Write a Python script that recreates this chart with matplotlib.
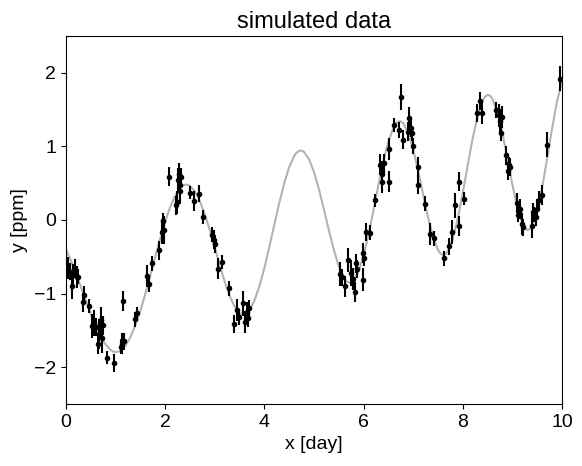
import matplotlib
matplotlib.use("Agg")
import matplotlib.pyplot as plt

plt.rcParams['font.family'] = ['Liberation Sans', 'DejaVu Sans']

# true model curve (denser near the extrema)
true_t = [0.0, 0.1, 0.2, 0.3, 0.4, 0.5, 0.6, 0.7, 0.8, 0.9, 0.95,
          1.0, 1.05, 1.1, 1.2, 1.3, 1.4, 1.5, 1.6, 1.7, 1.8, 1.9,
          2.0, 2.1, 2.2, 2.3, 2.35, 2.4, 2.45, 2.5, 2.6, 2.7, 2.8, 2.9,
          3.0, 3.1, 3.2, 3.3, 3.4, 3.5, 3.55, 3.6, 3.65, 3.7, 3.8, 3.9,
          4.0, 4.1, 4.2, 4.3, 4.4, 4.5, 4.6, 4.65, 4.7, 4.75, 4.8, 4.9,
          5.0, 5.1, 5.2, 5.3, 5.4, 5.5, 5.6, 5.65, 5.7, 5.75, 5.8, 5.9,
          6.0, 6.1, 6.2, 6.3, 6.4, 6.5, 6.6, 6.65, 6.7, 6.75, 6.8, 6.9,
          7.0, 7.1, 7.2, 7.3, 7.4, 7.5, 7.55, 7.6, 7.65, 7.7, 7.8, 7.9,
          8.0, 8.1, 8.2, 8.3, 8.4, 8.45, 8.5, 8.55, 8.6, 8.7, 8.8, 8.9,
          9.0, 9.1, 9.2, 9.25, 9.3, 9.35, 9.4, 9.5, 9.6, 9.7, 9.8, 9.9, 10.0]
true_y = [-0.401, -0.554, -0.725, -0.907, -1.094, -1.274, -1.440, -1.583, -1.693, -1.766, -1.786,
          -1.794, -1.790, -1.774, -1.706, -1.589, -1.428, -1.230, -1.001, -0.754, -0.500, -0.251,
          -0.022, 0.177, 0.331, 0.435, 0.465, 0.479, 0.479, 0.464, 0.387, 0.254, 0.075, -0.140,
          -0.375, -0.614, -0.839, -1.032, -1.178, -1.264, -1.281, -1.280, -1.261, -1.223, -1.093, -0.898,
          -0.650, -0.364, -0.063, 0.233, 0.501, 0.718, 0.869, 0.915, 0.940, 0.943, 0.925, 0.825,
          0.650, 0.416, 0.144, -0.140, -0.406, -0.629, -0.784, -0.829, -0.852, -0.850, -0.823, -0.697,
          -0.481, -0.196, 0.135, 0.478, 0.800, 1.068, 1.255, 1.311, 1.340, 1.341, 1.314, 1.182,
          0.957, 0.668, 0.347, 0.036, -0.227, -0.406, -0.456, -0.476, -0.466, -0.425, -0.253, 0.022,
          0.369, 0.748, 1.112, 1.415, 1.620, 1.677, 1.700, 1.689, 1.644, 1.461, 1.177, 0.833,
          0.480, 0.171, -0.046, -0.109, -0.136, -0.125, -0.078, 0.122, 0.441, 0.833, 1.244, 1.613, 1.884]

obs_t = [0.04, 0.08, 0.12, 0.15, 0.19, 0.22, 0.25, 0.34, 0.37, 0.47,
         0.53, 0.56, 0.60, 0.64, 0.66, 0.70, 0.72, 0.74, 0.82, 0.97,
         1.10, 1.13, 1.15, 1.17, 1.40, 1.43, 1.64, 1.67, 1.73, 1.88,
         1.93, 1.96, 1.97, 2.08, 2.22, 2.24, 2.26, 2.28, 2.29, 2.30,
         2.32, 2.50, 2.58, 2.69, 2.77, 2.95, 2.98, 3.00, 3.07, 3.15,
         3.29, 3.39, 3.45, 3.49, 3.57, 3.61, 3.64, 3.66, 3.68,
         5.52, 5.56, 5.62, 5.69, 5.75, 5.78, 5.83, 5.84, 5.86, 5.98,
         5.99, 6.01, 6.04, 6.13, 6.22, 6.33, 6.37, 6.38, 6.41, 6.52,
         6.52, 6.61, 6.72, 6.75, 6.79, 6.90, 6.92, 6.95, 6.97, 6.99,
         7.10, 7.10, 7.24, 7.34, 7.42, 7.62, 7.73, 7.79, 7.84, 7.93,
         7.93, 8.02, 8.29, 8.35, 8.38, 8.67, 8.72, 8.74, 8.78, 8.80,
         8.88, 8.92, 8.94, 8.96, 9.09, 9.12, 9.14, 9.16, 9.19, 9.21,
         9.39, 9.41, 9.44, 9.48, 9.50, 9.54, 9.59, 9.69, 9.95]
obs_y = [-0.65, -0.70, -0.90, -0.74, -0.66, -0.78, -0.77, -1.12, -1.02, -1.17,
         -1.44, -1.40, -1.45, -1.68, -1.55, -1.36, -1.60, -1.43, -1.87, -1.94,
         -1.72, -1.68, -1.10, -1.65, -1.35, -1.27, -0.76, -0.87, -0.59, -0.41,
         -0.16, -0.02, -0.13, 0.59, 0.20, 0.24, 0.54, 0.63, 0.48, 0.40,
         0.58, 0.37, 0.26, 0.36, 0.04, -0.20, -0.27, -0.33, -0.66, -0.57,
         -0.93, -1.41, -1.22, -1.32, -1.13, -1.38, -1.25, -1.33, -1.20,
         -0.73, -0.78, -0.90, -0.54, -0.72, -0.80, -0.98, -0.59, -0.67, -0.81,
         -0.45, -0.52, -0.16, -0.17, 0.27, 0.75, 0.63, 0.52, 0.77, 0.97,
         0.52, 1.29, 1.22, 1.67, 1.09, 1.20, 1.38, 1.25, 1.18, 1.00,
         0.72, 0.48, 0.22, -0.19, -0.25, -0.52, -0.36, -0.16, 0.20, -0.08,
         0.52, 0.29, 1.45, 1.62, 1.45, 1.50, 1.42, 1.34, 1.18, 1.40,
         0.88, 0.67, 0.75, 0.72, 0.23, 0.07, 0.12, 0.15, -0.05, -0.10,
         -0.08, 0.11, 0.07, 0.04, 0.15, 0.27, 0.34, 1.02, 1.92]
obs_err = [0.15, 0.12, 0.17, 0.14, 0.13, 0.15, 0.10, 0.13, 0.12, 0.09,
           0.16, 0.18, 0.12, 0.14, 0.20, 0.18, 0.21, 0.13, 0.09, 0.12,
           0.10, 0.14, 0.13, 0.12, 0.10, 0.09, 0.15, 0.11, 0.10, 0.13,
           0.17, 0.12, 0.19, 0.13, 0.13, 0.16, 0.17, 0.15, 0.20, 0.18,
           0.12, 0.09, 0.14, 0.11, 0.09, 0.10, 0.13, 0.12, 0.14, 0.10,
           0.10, 0.12, 0.15, 0.11, 0.17, 0.15, 0.13, 0.12, 0.11,
           0.16, 0.12, 0.14, 0.16, 0.18, 0.15, 0.14, 0.13, 0.12, 0.16,
           0.14, 0.10, 0.12, 0.10, 0.09, 0.14, 0.17, 0.15, 0.13, 0.15,
           0.14, 0.09, 0.11, 0.18, 0.13, 0.13, 0.15, 0.12, 0.10, 0.11,
           0.13, 0.12, 0.10, 0.15, 0.10, 0.10, 0.11, 0.16, 0.17, 0.14,
           0.13, 0.09, 0.12, 0.12, 0.15, 0.11, 0.16, 0.17, 0.11, 0.15,
           0.13, 0.12, 0.10, 0.12, 0.14, 0.10, 0.11, 0.13, 0.15, 0.12,
           0.16, 0.12, 0.10, 0.12, 0.14, 0.12, 0.13, 0.17, 0.17]

fig = plt.figure(figsize=(5.82, 4.66), dpi=100)
ax = fig.add_axes([66/582, 62/466, 496/582, 368/466])
ax.plot(true_t, true_y, "k", lw=1.5, alpha=0.3)
ax.errorbar(obs_t, obs_y, yerr=obs_err, fmt=".k", capsize=0)
ax.set_xlim(0, 10)
ax.set_ylim(-2.5, 2.5)
ax.set_xticks([0, 2, 4, 6, 8, 10])
ax.set_yticks([-2, -1, 0, 1, 2])
ax.tick_params(labelsize=14)
ax.set_xlabel("x [day]", fontsize=14)
ax.set_ylabel("y [ppm]", fontsize=14)
ax.set_title("simulated data", fontsize=17)
fig.savefig("out.png", dpi=100)
